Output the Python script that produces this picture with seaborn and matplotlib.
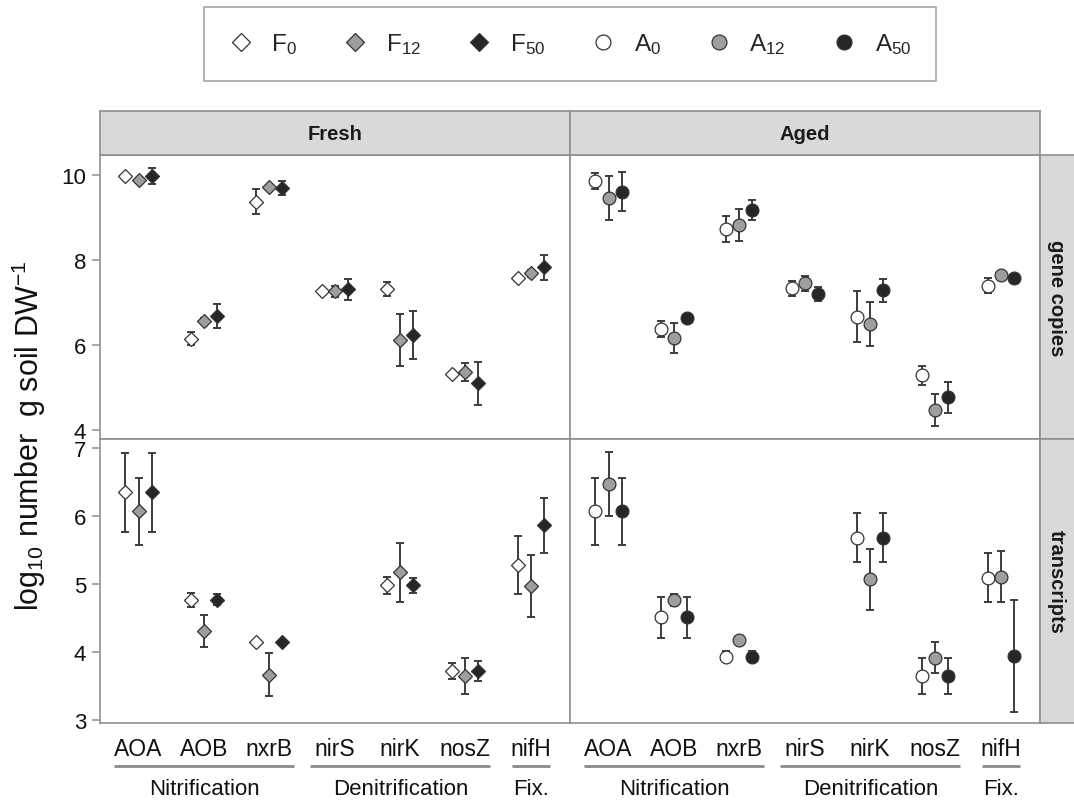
import numpy as np
import pandas as pd
import matplotlib
matplotlib.use("Agg")
import matplotlib.pyplot as plt
import matplotlib.transforms as mtransforms
from matplotlib.lines import Line2D
import seaborn as sns

# ---- data -------------------------------------------------------------
genes = ["AOA", "AOB", "nxrB", "nirS", "nirK", "nosZ", "nifH"]
processes = ["Nitrification", "Denitrification", "Fix."]
process_genes = [("AOA", "nxrB"), ("nirS", "nosZ"), ("nifH", "nifH")]
soils = ["Fresh", "Aged"]
targets = ["gene copies", "transcripts"]
fresh_levels = ["F0", "F12", "F50"]
aged_levels = ["A0", "A12", "A50"]
nan = np.nan

# gene copies (log10 per g soil DW): mean and error half-width per gene
gc_F0 = [9.97, 6.15, 9.37, 7.28, 7.32, 5.32, 7.58]
gc_F0_err = [0.04, 0.16, 0.29, 0.04, 0.17, 0.05, 0.05]
gc_F12 = [9.88, 6.57, 9.71, 7.26, 6.12, 5.37, 7.69]
gc_F12_err = [0.05, 0.06, 0.06, 0.12, 0.61, 0.21, 0.08]
gc_F50 = [9.98, 6.68, 9.69, 7.31, 6.23, 5.10, 7.83]
gc_F50_err = [0.19, 0.29, 0.17, 0.24, 0.56, 0.50, 0.29]
gc_A0 = [9.85, 6.38, 8.73, 7.33, 6.67, 5.29, 7.40]
gc_A0_err = [0.19, 0.18, 0.31, 0.17, 0.60, 0.22, 0.18]
gc_A12 = [9.46, 6.16, 8.82, 7.45, 6.50, 4.47, 7.65]
gc_A12_err = [0.52, 0.35, 0.37, 0.17, 0.52, 0.37, nan]
gc_A50 = [9.61, 6.64, 9.18, 7.20, 7.29, 4.77, 7.58]
gc_A50_err = [0.45, nan, 0.24, 0.16, 0.27, 0.37, nan]

# transcripts (log10 per g soil DW)
tr_F0 = [6.35, 4.77, 4.15, nan, 4.98, 3.72, 5.28]
tr_F0_err = [0.58, 0.10, nan, nan, 0.12, 0.12, 0.42]
tr_F12 = [6.07, 4.31, 3.67, nan, 5.17, 3.65, 4.97]
tr_F12_err = [0.49, 0.24, 0.32, nan, 0.44, 0.26, 0.45]
tr_F50 = [6.35, 4.77, 4.15, nan, 4.98, 3.72, 5.86]
tr_F50_err = [0.58, 0.08, nan, nan, 0.11, 0.15, 0.40]
tr_A0 = [6.07, 4.51, 3.93, nan, 5.68, 3.65, 5.09]
tr_A0_err = [0.49, 0.30, 0.08, nan, 0.36, 0.26, 0.36]
tr_A12 = [6.47, 4.77, 4.18, nan, 5.07, 3.92, 5.11]
tr_A12_err = [0.47, 0.09, nan, nan, 0.45, 0.23, 0.37]
tr_A50 = [6.07, 4.51, 3.93, nan, 5.68, 3.65, 3.94]
tr_A50_err = [0.49, 0.30, 0.08, nan, 0.36, 0.26, 0.82]

series = {
    ("gene copies", "F0"): (gc_F0, gc_F0_err),
    ("gene copies", "F12"): (gc_F12, gc_F12_err),
    ("gene copies", "F50"): (gc_F50, gc_F50_err),
    ("gene copies", "A0"): (gc_A0, gc_A0_err),
    ("gene copies", "A12"): (gc_A12, gc_A12_err),
    ("gene copies", "A50"): (gc_A50, gc_A50_err),
    ("transcripts", "F0"): (tr_F0, tr_F0_err),
    ("transcripts", "F12"): (tr_F12, tr_F12_err),
    ("transcripts", "F50"): (tr_F50, tr_F50_err),
    ("transcripts", "A0"): (tr_A0, tr_A0_err),
    ("transcripts", "A12"): (tr_A12, tr_A12_err),
    ("transcripts", "A50"): (tr_A50, tr_A50_err),
}

rows = []
for (target, trt), (vals, errs) in series.items():
    soil = "Fresh" if trt.startswith("F") else "Aged"
    for g, v, e in zip(genes, vals, errs):
        if not np.isnan(v):
            rows.append(dict(target=target, soil=soil, treatment=trt,
                             gene=g, value=v, err=e))
df = pd.DataFrame(rows)

# ---- style ------------------------------------------------------------
sns.set_style("white")
plt.rcParams["font.family"] = ["Liberation Sans", "DejaVu Sans"]
plt.rcParams["mathtext.default"] = "regular"

fills = {"F0": "#ffffff", "F12": "#9e9e9e", "F50": "#262626",
         "A0": "#ffffff", "A12": "#9e9e9e", "A50": "#262626"}
shape = {"Fresh": "D", "Aged": "o"}
msize = {"Fresh": 7.2, "Aged": 9.2}
edge = "#333333"
frame_col = "#8f8f8f"
strip_col = "#d9d9d9"
text_col = "#111111"

W, H = 1074, 803
fig = plt.figure(figsize=(W / 100, H / 100), dpi=100)


def box(x0, y0, x1, y1):
    return [x0 / W, 1 - y1 / H, (x1 - x0) / W, (y1 - y0) / H]


panel_px = {
    ("gene copies", "Fresh"): (100, 156, 570, 440),
    ("gene copies", "Aged"): (570, 156, 1040, 440),
    ("transcripts", "Fresh"): (100, 440, 570, 724),
    ("transcripts", "Aged"): (570, 440, 1040, 724),
}
ylims = {"gene copies": (3.79, 10.47), "transcripts": (2.96, 7.13)}
yticks = {"gene copies": [4, 6, 8, 10], "transcripts": [3, 4, 5, 6, 7]}
dodge_step = 0.2

for (target, soil), px in panel_px.items():
    ax = fig.add_axes(box(*px))
    levels = fresh_levels if soil == "Fresh" else aged_levels
    sub = df[(df.target == target) & (df.soil == soil)]

    # error bars first, so the markers sit on top of them
    for k, trt in enumerate(levels):
        s = sub[sub.treatment == trt]
        xpos = np.array([genes.index(g) for g in s.gene]) + (k - 1) * dodge_step
        ax.errorbar(xpos, s.value, yerr=s.err, fmt="none", ecolor="#3c3c3c",
                    elinewidth=1.4, capsize=2.6, capthick=1.4, zorder=2)

    sns.pointplot(data=sub, x="gene", y="value", hue="treatment",
                  order=genes, hue_order=levels,
                  palette=[fills[t] for t in levels],
                  markers=shape[soil], linestyles="none", dodge=2 * dodge_step,
                  errorbar=None, markersize=msize[soil],
                  markeredgecolor=edge, markeredgewidth=0.9,
                  legend=False, ax=ax, zorder=3)

    ax.set_xlim(-0.59, 6.6)
    ax.set_ylim(*ylims[target])
    ax.set_xlabel("")
    ax.set_ylabel("")
    ax.set_facecolor("white")
    for sp in ax.spines.values():
        sp.set_visible(True)
        sp.set_color(frame_col)
        sp.set_linewidth(1.2)

    ax.set_xticks(range(len(genes)))
    if target == "transcripts":
        ax.set_xticklabels(genes)
        ax.tick_params(axis="x", length=6, width=1.1, color=frame_col,
                       labelsize=16.5, labelcolor=text_col, pad=4)
    else:
        ax.tick_params(axis="x", length=0, labelbottom=False)

    ax.set_yticks(yticks[target])
    if soil == "Fresh":
        ax.tick_params(axis="y", length=6, width=1.1, color=frame_col,
                       labelsize=16, labelcolor=text_col, pad=4, left=True)
    else:
        ax.tick_params(axis="y", length=0, labelleft=False)

    # process brackets below the gene names
    if target == "transcripts":
        trans = mtransforms.blended_transform_factory(ax.transData, ax.transAxes)
        for name, (g0, g1) in zip(processes, process_genes):
            i0, i1 = genes.index(g0), genes.index(g1)
            if i0 == i1:
                a, b = i0 - 0.29, i1 + 0.29
            else:
                a, b = i0 - 0.37, i1 + 0.38
            ax.plot([a, b], [-0.151, -0.151], color="#8a8a8a", lw=2.0,
                    transform=trans, clip_on=False, solid_capstyle="butt")
            ax.text((a + b) / 2, -0.232, name, transform=trans, ha="center",
                    va="center", fontsize=16, color=text_col)

# ---- strips -----------------------------------------------------------
def strip(px, label, rotation=0):
    sa = fig.add_axes(box(*px))
    sa.set_facecolor(strip_col)
    sa.set_xticks([])
    sa.set_yticks([])
    for sp in sa.spines.values():
        sp.set_visible(True)
        sp.set_color(frame_col)
        sp.set_linewidth(1.2)
    sa.text(0.5 if rotation == 0 else 0.33, 0.5, label, transform=sa.transAxes,
            ha="center", va="center", rotation=rotation, fontsize=14.5,
            fontweight="bold", color="#1a1a1a")
    return sa


strip((100, 112, 570, 156), soils[0])
strip((570, 112, 1040, 156), soils[1])
strip((1040, 156, 1090, 440), targets[0], rotation=-90)
strip((1040, 440, 1090, 724), targets[1], rotation=-90)

# ---- y label ----------------------------------------------------------
fig.text(29 / W, 1 - 436 / H, r"log$_{10}$ number  g soil DW$^{-1}$",
         rotation=90, ha="center", va="center", fontsize=22, color=text_col)

# ---- legend -----------------------------------------------------------
handles, labels = [], []
for soil, levels in (("Fresh", fresh_levels), ("Aged", aged_levels)):
    for trt in levels:
        handles.append(Line2D([], [], linestyle="none", marker=shape[soil],
                              markersize=msize[soil] + 1.5,
                              markerfacecolor=fills[trt],
                              markeredgecolor=edge, markeredgewidth=0.9))
        labels.append(f"{trt[0]}$_{{{trt[1:]}}}$")
leg = fig.legend(handles, labels, loc="center", ncol=6,
                 bbox_to_anchor=(570 / W, 1 - 45 / H), frameon=True,
                 fancybox=False, fontsize=17.5, borderpad=1.0,
                 columnspacing=1.9, handletextpad=0.75, handlelength=1.0,
                 borderaxespad=0)
leg.get_frame().set_edgecolor(frame_col)
leg.get_frame().set_linewidth(1.2)

fig.savefig("out.png", dpi=100, facecolor="white")
